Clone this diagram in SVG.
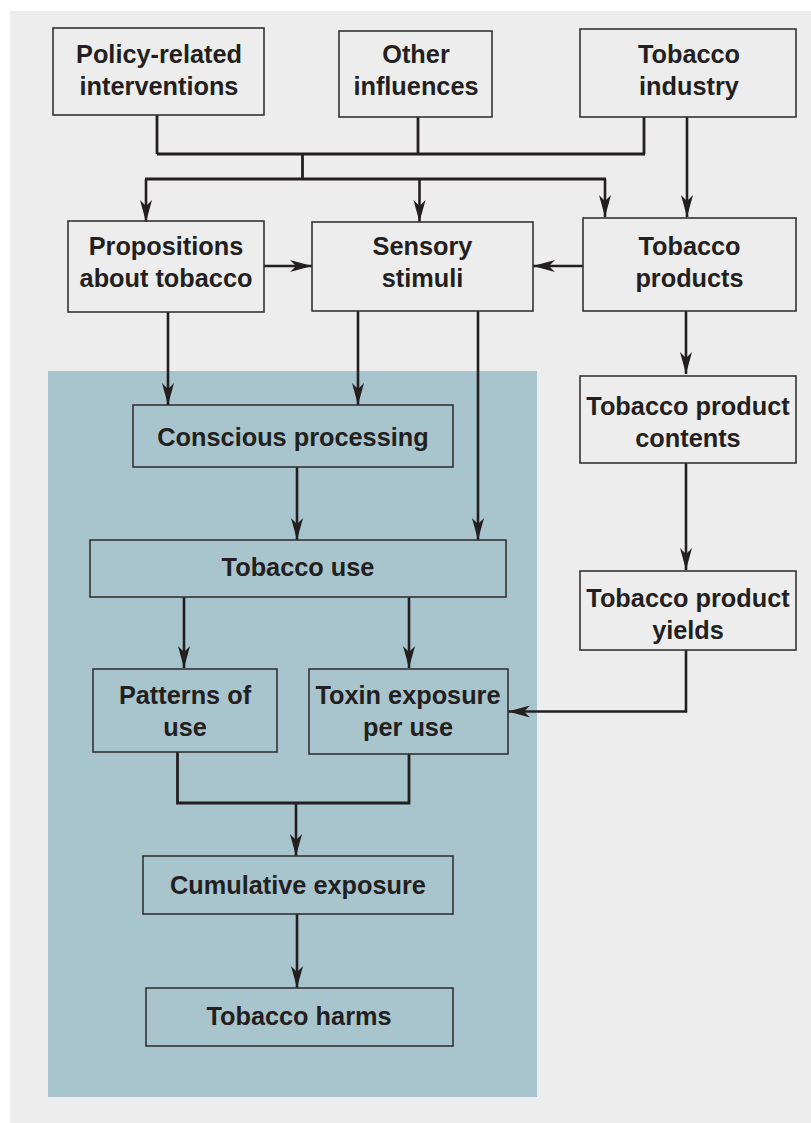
<svg xmlns="http://www.w3.org/2000/svg" width="811" height="1123" viewBox="0 0 811 1123">
<style>
.box{fill:none;stroke:#333;stroke-width:1.6}
.t{font-family:"Liberation Sans",Arial,sans-serif;font-weight:bold;font-size:25.3px;fill:#231f20;text-anchor:middle}
.c{fill:none;stroke:#231f20;stroke-width:2.8}
.a{fill:none;stroke:#231f20;stroke-width:2.6;marker-end:url(#ah)}
</style>
<defs>
<marker id="ah" markerUnits="userSpaceOnUse" markerWidth="24" markerHeight="14" refX="22" refY="6.5" orient="auto" viewBox="0 0 24 14">
<path d="M0,0.5 L22,6.5 L0,12.5 L6,6.5 Z" fill="#231f20"/>
</marker>
</defs>
<rect x="10" y="11" width="801" height="1112" fill="#ededed"/>
<rect x="48" y="371" width="489" height="726" fill="#a8c4cc"/>

<g id="connectors">
<path class="c" d="M157,115 V154 M418,117 V154 M644,117 V154 M157,154 H645 M302.5,154 V179 M145,179 H606"/>
<path class="a" d="M146,179 V222"/>
<path class="a" d="M419.5,179 V222"/>
<path class="a" d="M605,179 V217"/>
<path class="a" d="M687,117 V217"/>
<path class="a" d="M264,266 H312"/>
<path class="a" d="M583,266 H533"/>
<path class="a" d="M168,312 V405"/>
<path class="a" d="M358,311 V405"/>
<path class="a" d="M478,311 V540"/>
<path class="a" d="M297,467 V540"/>
<path class="a" d="M184,597 V668"/>
<path class="a" d="M409,597 V668"/>
<path class="a" d="M686,311 V374"/>
<path class="a" d="M686,463 V570"/>
<path class="a" d="M686,650 V711.5 H508"/>
<path class="c" d="M177.5,752 V803 H409 V754"/>
<path class="a" d="M296,803 V856"/>
<path class="a" d="M297,914 V988"/>
</g>

<g id="policy"><rect class="box" x="53" y="28" width="211" height="87"/><text class="t" x="159" y="63">Policy-related</text><text class="t" x="159" y="95">interventions</text></g>
<g id="other"><rect class="box" x="339" y="31" width="153" height="86"/><text class="t" x="416" y="63">Other</text><text class="t" x="416" y="95">influences</text></g>
<g id="industry"><rect class="box" x="580" y="29" width="216" height="88"/><text class="t" x="689" y="63">Tobacco</text><text class="t" x="689" y="95">industry</text></g>
<g id="propositions"><rect class="box" x="68" y="221" width="196" height="91"/><text class="t" x="166" y="255">Propositions</text><text class="t" x="166" y="287">about tobacco</text></g>
<g id="sensory"><rect class="box" x="312" y="222" width="221" height="89"/><text class="t" x="422.5" y="255">Sensory</text><text class="t" x="422.5" y="287">stimuli</text></g>
<g id="products"><rect class="box" x="583" y="218" width="213" height="93"/><text class="t" x="689.5" y="255">Tobacco</text><text class="t" x="689.5" y="287">products</text></g>
<g id="contents"><rect class="box" x="580" y="376" width="216" height="87"/><text class="t" x="688" y="415">Tobacco product</text><text class="t" x="688" y="447">contents</text></g>
<g id="yields"><rect class="box" x="580" y="571" width="216" height="79"/><text class="t" x="688" y="607">Tobacco product</text><text class="t" x="688" y="639">yields</text></g>
<g id="conscious"><rect class="box" x="133" y="405" width="320" height="62"/><text class="t" x="293" y="446">Conscious processing</text></g>
<g id="use"><rect class="box" x="90" y="540" width="416" height="57"/><text class="t" x="298" y="576">Tobacco use</text></g>
<g id="patterns"><rect class="box" x="93" y="669" width="184" height="83"/><text class="t" x="185" y="704">Patterns of</text><text class="t" x="185" y="736">use</text></g>
<g id="toxin"><rect class="box" x="309" y="669" width="199" height="85"/><text class="t" x="408" y="704">Toxin exposure</text><text class="t" x="408" y="736">per use</text></g>
<g id="cumulative"><rect class="box" x="143" y="856" width="310" height="58"/><text class="t" x="298" y="894">Cumulative exposure</text></g>
<g id="harms"><rect class="box" x="146" y="988" width="307" height="58"/><text class="t" x="299" y="1025">Tobacco harms</text></g>
</svg>
